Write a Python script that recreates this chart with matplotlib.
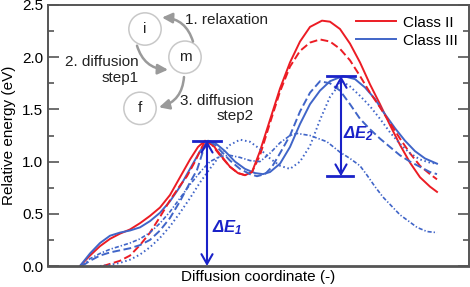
import matplotlib
matplotlib.use('Agg')
import matplotlib.pyplot as plt

plt.rcParams['font.family'] = ['Liberation Sans', 'DejaVu Sans']
plt.rcParams['mathtext.fontset'] = 'custom'
plt.rcParams['mathtext.rm'] = 'Liberation Sans:bold:italic'
plt.rcParams['mathtext.it'] = 'Liberation Sans:bold:italic'
plt.rcParams['mathtext.bf'] = 'Liberation Sans:bold:italic'

# curves (x = position along the diffusion coordinate, y = eV)
red_solid_x = [80, 90, 100, 110, 120, 130, 140, 150, 160, 170, 180, 190, 198, 205, 212, 220, 230, 238, 245,
               252, 260, 270, 280, 290, 300, 310, 322, 330, 340, 350, 360, 370, 380, 390, 400, 410, 420, 430, 437]
red_solid_y = [0.0, 0.1, 0.19, 0.26, 0.31, 0.35, 0.41, 0.48, 0.56, 0.68, 0.85, 1.02, 1.14, 1.2, 1.17, 1.07, 0.95,
               0.89, 0.87, 0.9, 1.1, 1.4, 1.7, 1.95, 2.15, 2.29, 2.35, 2.34, 2.27, 2.13, 1.95, 1.74, 1.55, 1.35,
               1.16, 0.99, 0.85, 0.76, 0.71]

red_dash_x = [103, 110, 120, 130, 140, 150, 160, 170, 180, 187, 195, 205, 212, 220, 230, 238, 245, 252, 260,
              270, 280, 290, 300, 310, 320, 330, 340, 350, 360, 370, 380, 390, 400, 410, 420, 430, 437]
red_dash_y = [0.0, 0.02, 0.05, 0.1, 0.2, 0.32, 0.47, 0.63, 0.77, 0.86, 1.0, 1.2, 1.16, 1.06, 0.95, 0.89, 0.87,
              0.9, 1.06, 1.37, 1.67, 1.91, 2.06, 2.14, 2.17, 2.15, 2.08, 1.97, 1.82, 1.66, 1.52, 1.37, 1.22,
              1.08, 0.96, 0.88, 0.83]

blue_solid_x = [80, 90, 100, 110, 120, 130, 140, 150, 160, 170, 180, 190, 200, 208, 215, 225, 235, 245, 255,
                263, 270, 280, 290, 300, 310, 320, 330, 343, 355, 365, 375, 383, 395, 405, 415, 425, 437]
blue_solid_y = [0.0, 0.12, 0.22, 0.29, 0.32, 0.34, 0.37, 0.43, 0.51, 0.62, 0.76, 0.93, 1.1, 1.2, 1.18, 1.1,
                1.0, 0.93, 0.89, 0.88, 0.9, 0.98, 1.14, 1.36, 1.55, 1.68, 1.77, 1.82, 1.79, 1.71, 1.6, 1.48,
                1.32, 1.2, 1.1, 1.03, 0.98]

blue_dash_x = [82, 90, 100, 110, 120, 130, 140, 150, 160, 170, 180, 190, 197, 203, 208, 215, 222, 230, 240,
               250, 257, 265, 272, 280, 290, 300, 310, 320, 330, 340, 350, 360, 370, 380, 390, 400, 410, 420,
               430, 437]
blue_dash_y = [0.0, 0.05, 0.1, 0.13, 0.15, 0.17, 0.2, 0.25, 0.34, 0.46, 0.62, 0.8, 0.92, 1.1, 1.2, 1.16, 1.09,
               1.01, 0.93, 0.88, 0.86, 0.88, 0.95, 1.08, 1.25, 1.48, 1.66, 1.77, 1.75, 1.68, 1.55, 1.41, 1.31,
               1.22, 1.14, 1.06, 1.0, 0.95, 0.9, 0.88]

blue_dot_x = [100, 110, 120, 130, 140, 150, 160, 170, 180, 190, 200, 209, 220, 230, 240, 250, 260, 270, 280,
              290, 300, 310, 320, 330, 342, 350, 360, 370, 380, 390, 400, 410, 420, 430, 437]
blue_dot_y = [0.0, 0.01, 0.03, 0.06, 0.11, 0.18, 0.27, 0.38, 0.51, 0.65, 0.8, 0.92, 1.06, 1.16, 1.21, 1.19,
              1.12, 1.03, 0.96, 0.93, 1.0, 1.15, 1.4, 1.62, 1.77, 1.72, 1.63, 1.53, 1.41, 1.28, 1.17, 1.08,
              1.02, 0.99, 0.98]

blue_dashdot_x = [82, 90, 100, 110, 120, 130, 140, 150, 160, 170, 180, 190, 202, 210, 220, 230, 240, 250, 260,
                  270, 280, 290, 297, 310, 327, 340, 350, 360, 367, 375, 383, 392, 400, 410, 417, 427, 437]
blue_dashdot_y = [0.0, 0.07, 0.12, 0.16, 0.19, 0.22, 0.26, 0.32, 0.41, 0.52, 0.65, 0.78, 0.92, 1.0, 1.05,
                  1.06, 1.04, 1.01, 1.0, 1.08, 1.18, 1.25, 1.27, 1.25, 1.19, 1.09, 1.03, 0.96, 0.87, 0.76,
                  0.66, 0.57, 0.49, 0.42, 0.37, 0.33, 0.32]

# barrier heights marked with arrows (x, bottom, top)
de1 = (207, 0.0, 1.2)
de2 = (341, 0.86, 1.82)

red = '#ec1c24'
blue = '#4065c8'
arrow_blue = '#1a22c8'

fig = plt.figure(figsize=(4.7, 2.87), dpi=100)
ax = fig.add_axes([48 / 470, 21 / 287, 421 / 470, 261 / 287])

ax.plot(red_solid_x, red_solid_y, color=red, lw=1.4, label='Class II')
ax.plot(blue_solid_x, blue_solid_y, color=blue, lw=1.4, label='Class III')
ax.plot(red_dash_x, red_dash_y, color=red, lw=1.4, ls=(0, (4, 1.8)))
ax.plot(blue_dash_x, blue_dash_y, color=blue, lw=1.4, ls=(0, (4, 1.8)))
ax.plot(blue_dot_x, blue_dot_y, color=blue, lw=1.4, ls=(0, (0.8, 1.4)))
ax.plot(blue_dashdot_x, blue_dashdot_y, color=blue, lw=1.2, ls=(0, (2.5, 1.2, 0.8, 1.2)))

# delta E arrows
for (x, y0, y1), cap_bottom in ((de1, False), (de2, True)):
    ax.annotate('', xy=(x, y1), xytext=(x, y0),
                arrowprops=dict(arrowstyle='<->,head_length=0.7,head_width=0.4',
                                color=arrow_blue, lw=1.5, shrinkA=0, shrinkB=0))
    ax.plot([x - 14, x + 14], [y1, y1], color=arrow_blue, lw=2)
    if cap_bottom:
        ax.plot([x - 14, x + 12], [y0, y0], color=arrow_blue, lw=2)
ax.text(212, 0.37, r'$\Delta E_1$', color=arrow_blue, fontsize=12, va='center')
ax.text(343, 1.27, r'$\Delta E_2$', color=arrow_blue, fontsize=12, va='center')

# state scheme i -> m -> f
circ = dict(boxstyle='circle,pad=0.6', fc='white', ec='#c8c8c8', lw=1.1)
ax.text(145, 2.27, 'i', fontsize=11, ha='center', va='center', bbox=circ, color='#222')
ax.text(185, 2.0, 'm', fontsize=11, ha='center', va='center', bbox=circ, color='#222')
ax.text(140, 1.51, 'f', fontsize=11, ha='center', va='center', bbox=circ, color='#222')
arr = dict(arrowstyle='-|>,head_length=0.6,head_width=0.3', color='#9a9a9a', lw=1.8,
           shrinkA=0, shrinkB=0)
ax.annotate('', xy=(162, 2.38), xytext=(193, 2.15),
            arrowprops=dict(connectionstyle='arc3,rad=0.35', **arr))
ax.annotate('', xy=(168, 1.88), xytext=(137, 2.11),
            arrowprops=dict(connectionstyle='arc3,rad=0.35', **arr))
ax.annotate('', xy=(159, 1.52), xytext=(184, 1.81),
            arrowprops=dict(connectionstyle='arc3,rad=-0.35', **arr))
ax.text(185, 2.36, '1. relaxation', fontsize=11, va='center', color='#222')
ax.text(139, 1.88, '2. diffusion\nstep1', fontsize=11, ha='right', va='center', color='#222',
        linespacing=1.15)
ax.text(254, 1.51, '3. diffusion\nstep2', fontsize=11, ha='right', va='center', color='#222',
        linespacing=1.15)

ax.set_xlim(48, 469)
ax.set_ylim(0, 2.5)
ax.set_xticks([])
ax.set_yticks([0, 0.5, 1.0, 1.5, 2.0, 2.5])
ax.set_yticklabels(['0.0', '0.5', '1.0', '1.5', '2.0', '2.5'])
ax.set_yticks([0.25, 0.75, 1.25, 1.75, 2.25], minor=True)
ax.tick_params(axis='y', which='both', direction='in', right=True, labelsize=11, color='#555555',
               width=1.2)
ax.tick_params(axis='y', which='major', length=8)
ax.tick_params(axis='y', which='minor', length=4)
for s in ax.spines.values():
    s.set_color('#555555')
    s.set_linewidth(1.4)
ax.spines['bottom'].set_linewidth(2)

ax.set_ylabel('Relative energy (eV)', fontsize=11, labelpad=4)
ax.set_xlabel('Diffusion coordinate (-)', fontsize=11, labelpad=3)

ax.legend(loc='upper right', frameon=False, fontsize=11, handlelength=2.6, handletextpad=0.5,
          labelspacing=0.25, borderaxespad=0.3)

fig.savefig('out.png', dpi=100)
